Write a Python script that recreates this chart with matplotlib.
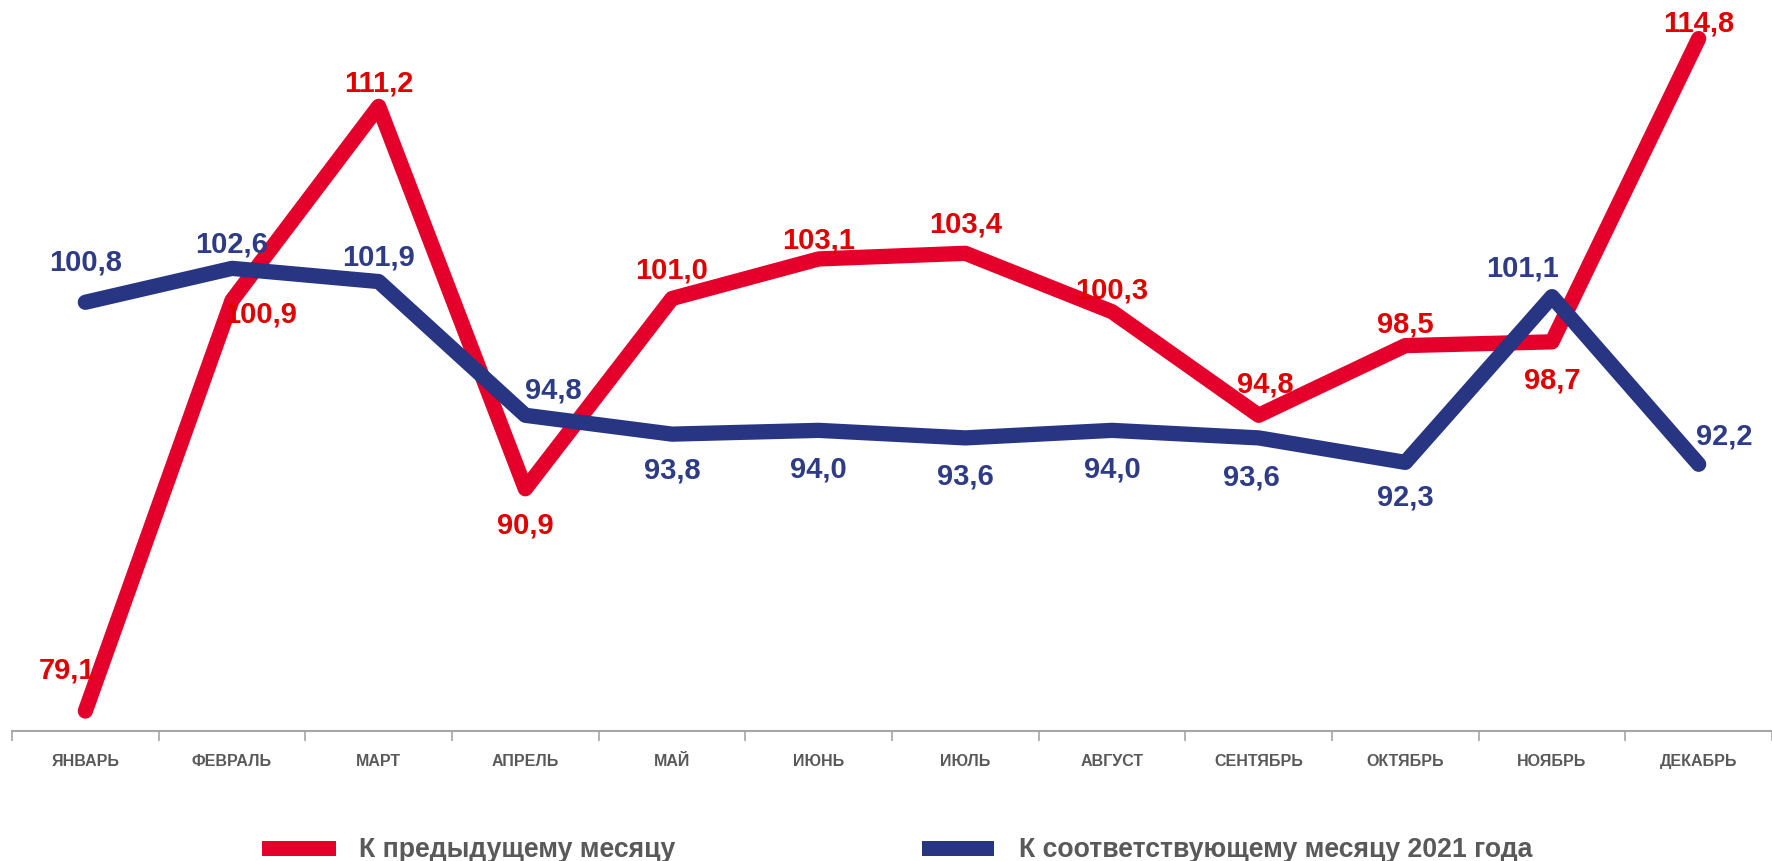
import matplotlib
matplotlib.use("Agg")
import matplotlib.pyplot as plt
from matplotlib.patches import Rectangle
import numpy as np

months = ["ЯНВАРЬ", "ФЕВРАЛЬ", "МАРТ", "АПРЕЛЬ", "МАЙ", "ИЮНЬ", "ИЮЛЬ",
          "АВГУСТ", "СЕНТЯБРЬ", "ОКТЯБРЬ", "НОЯБРЬ", "ДЕКАБРЬ"]
prev_month = [79.1, 100.9, 111.2, 90.9, 101.0, 103.1, 103.4, 100.3, 94.8, 98.5, 98.7, 114.8]
same_month_2021 = [100.8, 102.6, 101.9, 94.8, 93.8, 94.0, 93.6, 94.0, 93.6, 92.3, 101.1, 92.2]
legend_labels = ["К предыдущему месяцу", "К соответствующему месяцу 2021 года"]

# label offsets in pixels (dx, dy up) - styling only
red_off = [(-18, 42), (29, -13), (0, 24), (0, -36), (0, 29), (0, 19), (0, 30),
           (0, 22), (7, 32), (0, 22), (0, -38), (0, 16)]
blue_off = [(0, 41), (0, 25), (0, 25), (28, 26), (0, -35), (0, -38), (0, -38),
            (0, -38), (-7, -39), (0, -34), (-29, 29), (26, 29)]

RED = "#E4002B"
RED_TXT = "#E00000"
BLUE = "#283583"
BLUE_TXT = "#2E3B87"
GRAY = "#595959"
FONT = "Liberation Sans"

W, H = 1772, 862
fig = plt.figure(figsize=(W / 100, H / 100), dpi=100)
ax = fig.add_axes([12 / W, 130 / H, 1 - 12 / W, 1 - 130 / H])

x = np.arange(len(months))
ax.plot(x, prev_month, color=RED, lw=11, solid_capstyle="round", solid_joinstyle="round", zorder=2)
ax.plot(x, same_month_2021, color=BLUE, lw=11, solid_capstyle="round", solid_joinstyle="round", zorder=3)

def fmt(v):
    return f"{v:.1f}".replace(".", ",")

for xi, v, o in zip(x, prev_month, red_off):
    ax.annotate(fmt(v), (xi, v), xytext=o, textcoords="offset pixels",
                ha="center", va="center", color=RED_TXT, fontsize=21,
                fontweight="bold", family=FONT, zorder=5)
for xi, v, o in zip(x, same_month_2021, blue_off):
    ax.annotate(fmt(v), (xi, v), xytext=o, textcoords="offset pixels",
                ha="center", va="center", color=BLUE_TXT, fontsize=21,
                fontweight="bold", family=FONT, zorder=5)

ax.set_xlim(-0.5, len(months) - 0.5)
ax.set_ylim(78.04, 116.9)
for s in ["top", "right", "left"]:
    ax.spines[s].set_visible(False)
ax.spines["bottom"].set_color("#A6A6A6")
ax.spines["bottom"].set_linewidth(1.5)
ax.set_yticks([])
ax.set_xticks(np.arange(-0.5, len(months), 1.0))
ax.set_xticklabels([])
ax.tick_params(axis="x", which="major", length=7, width=1.2, color="#A6A6A6", direction="out")
ax.set_xticks(x, minor=True)
ax.set_xticklabels(months, minor=True, color=GRAY, fontsize=11.5, fontweight="bold", family=FONT)
ax.tick_params(axis="x", which="minor", length=0, pad=16)

# legend
def leg(x0, x1, color, label, tx):
    fig.add_artist(Rectangle((x0 / W, 1 - 857 / H), (x1 - x0) / W, 15 / H,
                             transform=fig.transFigure, color=color, lw=0))
    fig.text(tx / W, 1 - 850 / H, label, ha="left", va="center", color=GRAY,
             fontsize=19.2, fontweight="bold", family=FONT)

leg(262, 336, RED, legend_labels[0], 359)
leg(922, 994, BLUE, legend_labels[1], 1019)

fig.savefig("out.png", dpi=100)
